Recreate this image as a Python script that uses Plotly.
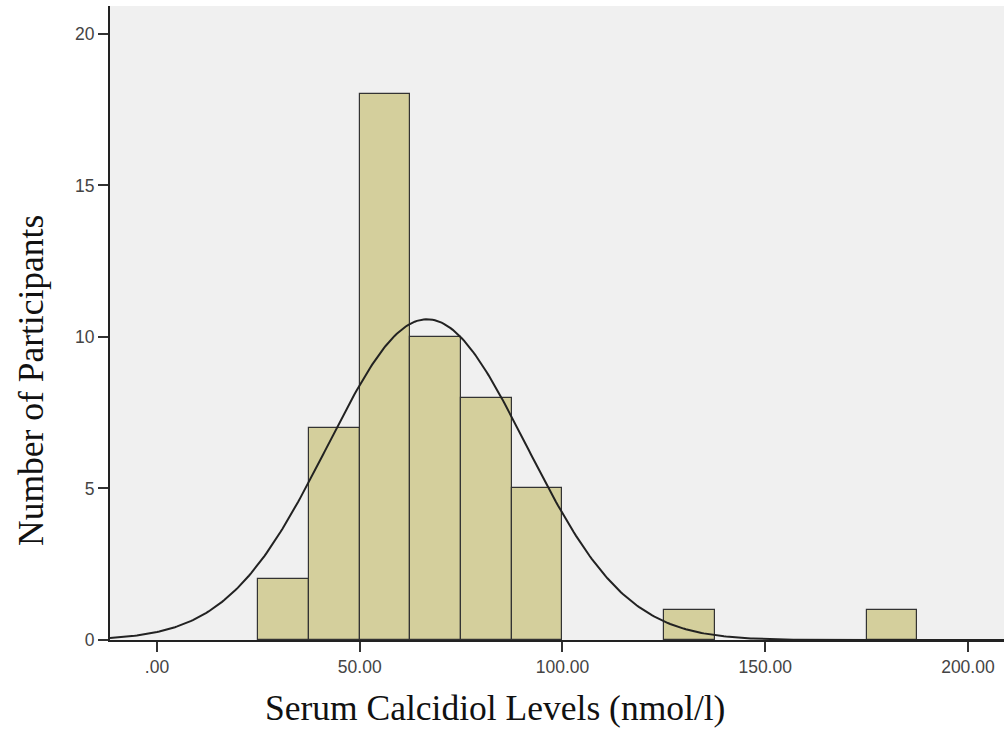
import numpy as np
import plotly.graph_objects as go

# Histogram bins (nmol/l) and counts
bin_left = [25.0, 37.5, 50.0, 62.5, 75.0, 87.5, 125.0, 175.0]
counts = [2, 7, 18, 10, 8, 5, 1, 1]
bin_width = 12.5

# Fitted normal curve parameters
fit_mean = 66.6
fit_sd = 24.5
n_total = sum(counts)

x_tick_vals = [0, 50, 100, 150, 200]
x_tick_text = [".00", "50.00", "100.00", "150.00", "200.00"]
y_tick_vals = [0, 5, 10, 15, 20]

x_title = "Serum Calcidiol Levels (nmol/l)"
y_title = "Number of Participants"

bin_centers = [b + bin_width / 2 for b in bin_left]

xs = np.linspace(-11.6, 208.9, 400)
ys = n_total * bin_width / (fit_sd * np.sqrt(2 * np.pi)) * np.exp(-0.5 * ((xs - fit_mean) / fit_sd) ** 2)

fig = go.Figure()
fig.add_trace(go.Bar(
    x=bin_centers, y=counts, width=bin_width,
    marker=dict(color="#d4cf9c", line=dict(color="#333333", width=1.2)),
    showlegend=False, hoverinfo="x+y",
))
fig.add_trace(go.Scatter(
    x=xs, y=ys, mode="lines",
    line=dict(color="#222222", width=2),
    showlegend=False, hoverinfo="skip",
))

title_font = dict(family="Times New Roman, Liberation Serif", size=35.5, color="#111111")
tick_font = dict(family="Arial, Liberation Sans", size=17.5, color="#444444")

fig.update_layout(
    width=1004, height=734,
    margin=dict(l=110, r=0, t=6, b=94),
    paper_bgcolor="white",
    plot_bgcolor="#f0f0f0",
    bargap=0,
    xaxis=dict(
        range=[-11.6, 208.9],
        tickvals=x_tick_vals, ticktext=x_tick_text,
        ticks="outside", ticklen=10, tickwidth=2, tickcolor="#333333",
        showline=True, linecolor="#222222", linewidth=2,
        showgrid=False, zeroline=False,
        tickfont=tick_font,
    ),
    yaxis=dict(
        range=[0, 20.92],
        tickvals=y_tick_vals,
        ticks="outside", ticklen=10, tickwidth=2, tickcolor="#333333",
        showline=True, linecolor="#222222", linewidth=2,
        showgrid=False, zeroline=False,
        tickfont=tick_font,
    ),
    annotations=[
        dict(text=x_title, xref="paper", yref="paper",
             x=(495 - 110) / 894, y=-(708 - 640) / 634,
             xanchor="center", yanchor="middle", showarrow=False, font=title_font),
        dict(text=y_title, xref="paper", yref="paper",
             x=-(110 - 31) / 894, y=(640 - 381) / 634, textangle=-90,
             xanchor="center", yanchor="middle", showarrow=False, font=title_font),
    ],
)

fig.write_html("out.html")
